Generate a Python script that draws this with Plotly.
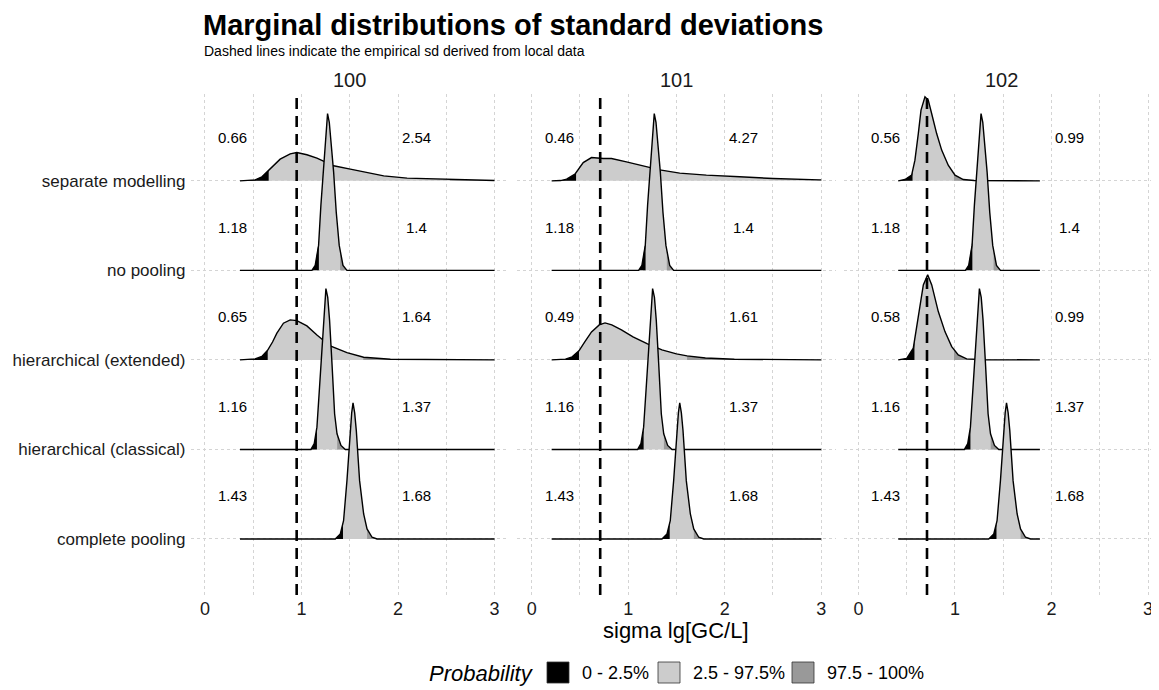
import numpy as np
import plotly.graph_objects as go

# ---------------- data ----------------
panels = ["100", "101", "102"]
categories = ["separate modelling", "no pooling", "hierarchical (extended)",
              "hierarchical (classical)", "complete pooling"]
empirical_sd = [0.95, 0.71, 0.71]

# 2.5% and 97.5% quantiles (label values) per panel, in category order
q_low_100 = [0.66, 1.18, 0.65, 1.16, 1.43]
q_low_101 = [0.46, 1.18, 0.49, 1.16, 1.43]
q_low_102 = [0.56, 1.18, 0.58, 1.16, 1.43]
q_high_100 = [2.54, 1.4, 1.64, 1.37, 1.68]
q_high_101 = [4.27, 1.4, 1.61, 1.37, 1.68]
q_high_102 = [0.99, 1.4, 0.99, 1.37, 1.68]

# density evaluation range per panel
grid_min = [0.363, 0.207, 0.412]
grid_max = [3.0, 3.0, 1.88]

# ridge heights (in row units)
sep_x_100 = [0.363, 0.45, 0.52, 0.59, 0.647, 0.70, 0.779, 0.883, 0.952, 1.056, 1.16, 1.25,
             1.333, 1.506, 1.644, 1.852, 2.094, 2.44, 2.54, 2.994, 3.0]
sep_h_100 = [0, 0.003, 0.011, 0.045, 0.104, 0.168, 0.242, 0.302, 0.316, 0.291, 0.254, 0.21,
             0.168, 0.131, 0.104, 0.056, 0.030, 0.019, 0.017, 0.003, 0.003]
sep_x_101 = [0.207, 0.30, 0.362, 0.448, 0.534, 0.62, 0.741, 0.827, 0.982, 1.12, 1.327,
             1.534, 1.81, 2.154, 2.5, 2.98, 3.0]
sep_h_101 = [0, 0.003, 0.019, 0.075, 0.204, 0.260, 0.249, 0.249, 0.212, 0.175, 0.123,
             0.086, 0.064, 0.045, 0.026, 0.011, 0.011]
sep_x_102 = [0.412, 0.482, 0.551, 0.585, 0.62, 0.648, 0.689, 0.723, 0.758, 0.81, 0.862,
             0.93, 1.0, 1.086, 1.2, 1.88]
sep_h_102 = [0, 0.015, 0.064, 0.231, 0.528, 0.790, 0.939, 0.902, 0.752, 0.528, 0.343,
             0.175, 0.064, 0.015, 0.003, 0]

hext_x_100 = [0.363, 0.519, 0.589, 0.647, 0.70, 0.745, 0.813, 0.883, 0.952, 1.056, 1.16,
              1.298, 1.471, 1.644, 1.921, 2.994]
hext_h_100 = [0, 0.011, 0.039, 0.104, 0.20, 0.298, 0.410, 0.447, 0.439, 0.380, 0.279,
              0.156, 0.082, 0.030, 0.008, 0]
hext_x_101 = [0.207, 0.35, 0.42, 0.49, 0.55, 0.62, 0.70, 0.76, 0.83, 0.93, 1.05, 1.2,
              1.35, 1.5, 1.61, 1.8, 2.1, 2.5, 3.0]
hext_h_101 = [0, 0.008, 0.034, 0.101, 0.201, 0.313, 0.391, 0.413, 0.391, 0.335, 0.257,
              0.179, 0.112, 0.067, 0.045, 0.022, 0.008, 0.002, 0]
hext_x_102 = [0.412, 0.5, 0.568, 0.62, 0.672, 0.717, 0.759, 0.827, 0.896, 0.966, 1.034,
              1.121, 1.3, 1.88]
hext_h_102 = [0, 0.017, 0.131, 0.503, 0.838, 0.950, 0.838, 0.540, 0.316, 0.149, 0.056,
              0.011, 0.002, 0]

nopool_x = [1.108, 1.142, 1.177, 1.201, 1.236, 1.253, 1.27, 1.288, 1.305, 1.333, 1.36,
            1.391, 1.43, 1.471]
nopool_h = [0, 0.056, 0.279, 0.726, 1.285, 1.587, 1.751, 1.654, 1.471, 1.098, 0.651,
            0.279, 0.056, 0]
hclass_x = [1.098, 1.132, 1.16, 1.187, 1.222, 1.238, 1.253, 1.272, 1.291, 1.316, 1.343,
            1.368, 1.409, 1.454]
hclass_h = [0, 0.064, 0.249, 0.696, 1.330, 1.620, 1.796, 1.698, 1.441, 0.958, 0.399,
            0.175, 0.045, 0]
cpool_x = [1.35, 1.402, 1.436, 1.471, 1.506, 1.52, 1.534, 1.551, 1.568, 1.602, 1.644,
           1.679, 1.731, 1.783]
cpool_h = [0, 0.056, 0.204, 0.651, 1.210, 1.408, 1.520, 1.408, 1.210, 0.651, 0.279,
           0.112, 0.019, 0]

legend_labels = ["0 - 2.5%", "2.5 - 97.5%", "97.5 - 100%"]

# ---------------- assemble ----------------
q_low = [q_low_100, q_low_101, q_low_102]
q_high = [q_high_100, q_high_101, q_high_102]
curves = [
    [(sep_x_100, sep_h_100), (nopool_x, nopool_h), (hext_x_100, hext_h_100),
     (hclass_x, hclass_h), (cpool_x, cpool_h)],
    [(sep_x_101, sep_h_101), (nopool_x, nopool_h), (hext_x_101, hext_h_101),
     (hclass_x, hclass_h), (cpool_x, cpool_h)],
    [(sep_x_102, sep_h_102), (nopool_x, nopool_h), (hext_x_102, hext_h_102),
     (hclass_x, hclass_h), (cpool_x, cpool_h)],
]

# the page body has an 8px margin: the figure is sized/positioned to fill the window
OFF = 8
W, H = 1159 - OFF, 690 - OFF
FONT = "Liberation Sans, Arial, Helvetica, sans-serif"
TXT = "#1a1a1a"
C_BLACK, C_LIGHT, C_DARK = "#000000", "#cccccc", "#999999"
fill_colors = [C_BLACK, C_LIGHT, C_DARK]
GRID = "#d4d4d4"


def px_x(p):
    return (p - OFF) / W


def px_y(p):
    return 1 - (p - OFF) / H


panel_px = [(190.5, 509.0), (517.2, 835.7), (844.0, 1159.0)]
x_ranges = [[-0.15, 3.15], [-0.15, 3.15], [-0.15, 3.114]]
y_dom = [px_y(595), px_y(94)]
y_range = [0.374, 5.97]

fig = go.Figure()


def seg_poly(x, h, a, b, base):
    xi = [a] + [v for v in x if a < v < b] + [b]
    hi = np.interp(xi, x, h)
    xs = list(xi) + [b, a]
    ys = list(base + hi) + [base, base]
    return xs, ys


for pi in range(3):
    xa = "x" if pi == 0 else f"x{pi + 1}"
    ya = "y" if pi == 0 else f"y{pi + 1}"
    for ci in range(len(categories)):
        x, h = list(curves[pi][ci][0]), list(curves[pi][ci][1])
        if x[0] > grid_min[pi] + 1e-9:
            x = [grid_min[pi]] + x
            h = [0] + h
        if x[-1] < grid_max[pi] - 1e-9:
            x = x + [grid_max[pi]]
            h = h + [0]
        base = 5 - ci
        xmin, xmax = x[0], x[-1]
        lo, hi = q_low[pi][ci], q_high[pi][ci]
        xs, ys = seg_poly(x, h, xmin, xmax, base)
        fig.add_trace(go.Scatter(x=xs, y=ys, xaxis=xa, yaxis=ya, mode="lines",
                                 fill="toself", fillcolor=C_LIGHT, line=dict(width=0),
                                 hoverinfo="skip", showlegend=False))
        if lo > xmin:
            xs, ys = seg_poly(x, h, xmin, min(lo, xmax), base)
            fig.add_trace(go.Scatter(x=xs, y=ys, xaxis=xa, yaxis=ya, mode="lines",
                                     fill="toself", fillcolor=C_BLACK, line=dict(width=0),
                                     hoverinfo="skip", showlegend=False))
        if hi < xmax:
            xs, ys = seg_poly(x, h, max(hi, xmin), xmax, base)
            fig.add_trace(go.Scatter(x=xs, y=ys, xaxis=xa, yaxis=ya, mode="lines",
                                     fill="toself", fillcolor=C_DARK, line=dict(width=0),
                                     hoverinfo="skip", showlegend=False))
        fig.add_trace(go.Scatter(x=x, y=[base + v for v in h], xaxis=xa, yaxis=ya,
                                 mode="lines", line=dict(color="black", width=1.4),
                                 hoverinfo="skip", showlegend=False))

annotations = []
shapes = []
for pi in range(3):
    xa = "x" if pi == 0 else f"x{pi + 1}"
    ya = "y" if pi == 0 else f"y{pi + 1}"
    sfx = "" if pi == 0 else str(pi + 1)
    d0, d1 = panel_px[pi]
    fig.layout[f"xaxis{sfx}"] = dict(
        domain=[px_x(d0), min(1.0, px_x(d1))], range=x_ranges[pi], anchor=ya,
        tickvals=[0, 1, 2, 3], ticktext=["0", "1", "2", "3"],
        showgrid=True, gridcolor=GRID, griddash="dot", gridwidth=1,
        minor=dict(dtick=0.5, tick0=0, showgrid=True, gridcolor=GRID,
                   griddash="dot", gridwidth=1),
        zeroline=False, showline=False, ticks="", automargin=False,
        tickfont=dict(family=FONT, size=18, color=TXT),
        ticklabelstandoff=1,
    )
    fig.layout[f"yaxis{sfx}"] = dict(
        domain=y_dom, range=y_range, anchor=xa,
        tickvals=[5, 4, 3, 2, 1], ticktext=categories,
        showticklabels=(pi == 0),
        showgrid=True, gridcolor=GRID, griddash="dot", gridwidth=1,
        zeroline=False, showline=False, ticks="", automargin=False,
        tickfont=dict(family=FONT, size=17, color=TXT),
        ticklabelstandoff=4,
    )
    annotations.append(dict(text=panels[pi], x=px_x((d0 + d1) / 2), y=px_y(80),
                            xref="paper", yref="paper", showarrow=False,
                            font=dict(family=FONT, size=20, color=TXT),
                            xanchor="center", yanchor="middle"))
    for ci in range(len(categories)):
        base = 5 - ci
        for xv, val in ((0.285, q_low[pi][ci]), (2.19, q_high[pi][ci])):
            annotations.append(dict(text=f"{val:g}", x=xv, y=base + 0.48,
                                    xref=xa, yref=ya, showarrow=False,
                                    font=dict(family=FONT, size=15, color="#000000"),
                                    xanchor="center", yanchor="middle"))
    shapes.append(dict(type="line", xref=xa, yref=f"{ya} domain",
                       x0=empirical_sd[pi], x1=empirical_sd[pi], y0=0, y1=1,
                       line=dict(color="black", width=2.6, dash="11px,7px"),
                       layer="above"))

annotations.append(dict(text="<b>Marginal distributions of standard deviations</b>",
                        x=px_x(202), y=px_y(8), xref="paper", yref="paper",
                        showarrow=False, xanchor="left", yanchor="top", borderpad=0,
                        font=dict(family=FONT, size=29, color="#000000")))
annotations.append(dict(text="Dashed lines indicate the empirical sd derived from local data",
                        x=px_x(202), y=px_y(51), xref="paper", yref="paper",
                        showarrow=False, xanchor="left", yanchor="middle",
                        font=dict(family=FONT, size=14, color="#000000")))
annotations.append(dict(text="sigma lg[GC/L]", x=px_x(676), y=px_y(630),
                        xref="paper", yref="paper", showarrow=False,
                        xanchor="center", yanchor="middle",
                        font=dict(family=FONT, size=22, color="#000000")))

annotations.append(dict(text="<i>Probability</i>", x=px_x(536), y=px_y(673),
                        xref="paper", yref="paper", showarrow=False,
                        xanchor="right", yanchor="middle",
                        font=dict(family=FONT, size=22, color="#000000")))
box_left = [547, 658, 792]
for k in range(3):
    bl = box_left[k]
    shapes.append(dict(type="rect", xref="paper", yref="paper",
                       x0=px_x(bl), x1=px_x(bl + 22), y0=px_y(683), y1=px_y(662),
                       fillcolor=fill_colors[k], line=dict(color="#333333", width=0.8)))
    annotations.append(dict(text=legend_labels[k], x=px_x(bl + 33), y=px_y(673),
                            xref="paper", yref="paper", showarrow=False,
                            xanchor="left", yanchor="middle",
                            font=dict(family=FONT, size=18, color="#000000")))

fig.update_layout(
    width=W, height=H,
    margin=dict(l=0, r=0, t=0, b=0, autoexpand=False),
    paper_bgcolor="white", plot_bgcolor="white",
    showlegend=False,
    annotations=annotations, shapes=shapes,
)

fig.write_html("out.html")
